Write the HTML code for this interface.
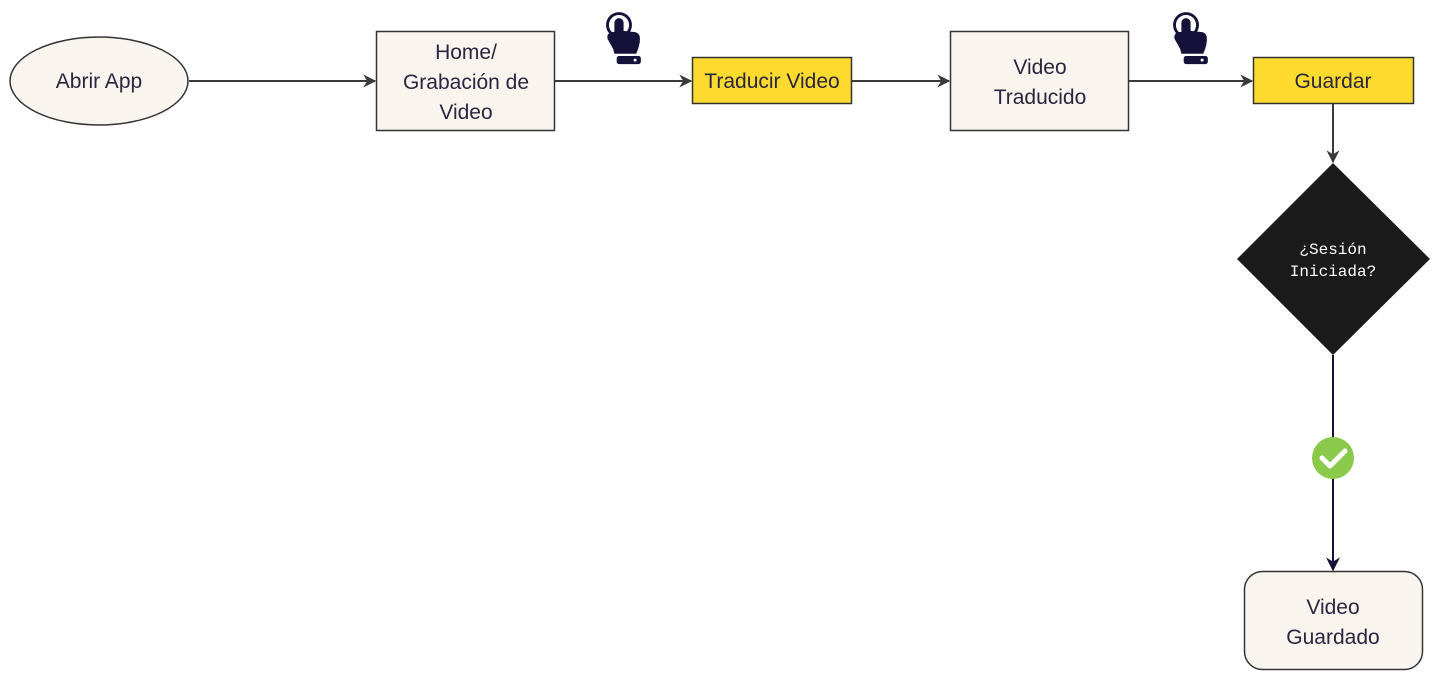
<!DOCTYPE html>
<html><head><meta charset="utf-8"><style>
html,body{margin:0;padding:0;background:#fff;width:1440px;height:694px;overflow:hidden}
svg{display:block}
.t{font-family:"Liberation Sans",sans-serif;font-size:21px;fill:#2a2540}
.m{font-family:"Liberation Mono",monospace;font-size:16px;fill:#fff}
</style></head><body>
<svg width="1440" height="694" viewBox="0 0 1440 694">
<defs>
<marker id="a" viewBox="0 0 10 10" refX="9" refY="5" markerWidth="13" markerHeight="13" markerUnits="userSpaceOnUse" orient="auto"><path d="M0,0 L10,5 L0,10 L3,5 z" fill="#3a3a3a"/></marker>
<marker id="b" viewBox="0 0 10 10" refX="9" refY="5" markerWidth="14" markerHeight="14" markerUnits="userSpaceOnUse" orient="auto"><path d="M0,0 L10,5 L0,10 L3,5 z" fill="#14123a"/></marker>
<g id="hand" fill="#14123a">
<circle cx="0" cy="0" r="10" fill="none" stroke="#14123a" stroke-width="2.5"/>
<rect x="-4" y="-6" width="8" height="22" rx="4"/>
<path d="M-4,6 Q-11,6 -10,12 L-5,21 L-4,25 L15,25 Q19,16 18,10 Q17,6 12,6 L3,5 z"/>
<rect x="-2" y="27" width="21" height="7" rx="2"/>
<circle cx="14" cy="30.5" r="1.3" fill="#fff"/>
</g>
</defs>
<line x1="189" y1="81" x2="375" y2="81" stroke="#3a3a3a" stroke-width="2" marker-end="url(#a)"/>
<line x1="555" y1="81" x2="691" y2="81" stroke="#3a3a3a" stroke-width="2" marker-end="url(#a)"/>
<line x1="852" y1="81" x2="949" y2="81" stroke="#3a3a3a" stroke-width="2" marker-end="url(#a)"/>
<line x1="1129" y1="81" x2="1252" y2="81" stroke="#3a3a3a" stroke-width="2" marker-end="url(#a)"/>
<line x1="1333" y1="104" x2="1333" y2="162" stroke="#3a3a3a" stroke-width="2" marker-end="url(#a)"/>
<line x1="1333" y1="355" x2="1333" y2="570" stroke="#14123a" stroke-width="2" marker-end="url(#b)"/>
<ellipse cx="99" cy="81" rx="89" ry="44" fill="#f9f5ee" stroke="#333" stroke-width="1.5"/>
<text class="t" x="99" y="88" text-anchor="middle">Abrir App</text>
<rect x="376.5" y="31.5" width="178" height="99" fill="#f9f5ee" stroke="#333" stroke-width="1.5"/>
<text class="t" x="466" y="59" text-anchor="middle">Home/</text>
<text class="t" x="466" y="89" text-anchor="middle">Grabación de</text>
<text class="t" x="466" y="119" text-anchor="middle">Video</text>
<rect x="692.5" y="57.5" width="159" height="46" fill="#fddb2e" stroke="#333" stroke-width="1.5"/>
<text class="t" x="772" y="88" text-anchor="middle">Traducir Video</text>
<rect x="950.5" y="31.5" width="178" height="99" fill="#f9f5ee" stroke="#333" stroke-width="1.5"/>
<text class="t" x="1040" y="74" text-anchor="middle">Video</text>
<text class="t" x="1040" y="104" text-anchor="middle">Traducido</text>
<rect x="1253.5" y="57.5" width="160" height="46" fill="#fddb2e" stroke="#333" stroke-width="1.5"/>
<text class="t" x="1333" y="88" text-anchor="middle">Guardar</text>
<polygon points="1333,163 1430,259 1333,355 1237,259" fill="#1b1b1b"/>
<text class="m" x="1333" y="254" text-anchor="middle">¿Sesión</text>
<text class="m" x="1333" y="276" text-anchor="middle">Iniciada?</text>
<circle cx="1333" cy="458" r="21" fill="#8bc94a"/>
<path d="M1322,458 L1330,466 L1345,451" fill="none" stroke="#fff" stroke-width="5" stroke-linecap="round" stroke-linejoin="round"/>
<rect x="1244.5" y="571.5" width="178" height="98" rx="18" fill="#f9f5ee" stroke="#333" stroke-width="1.5"/>
<text class="t" x="1333" y="614" text-anchor="middle">Video</text>
<text class="t" x="1333" y="644" text-anchor="middle">Guardado</text>
<use href="#hand" transform="translate(619,25) scale(1.15)"/>
<use href="#hand" transform="translate(1186,25) scale(1.15)"/>
</svg>
</body></html>
